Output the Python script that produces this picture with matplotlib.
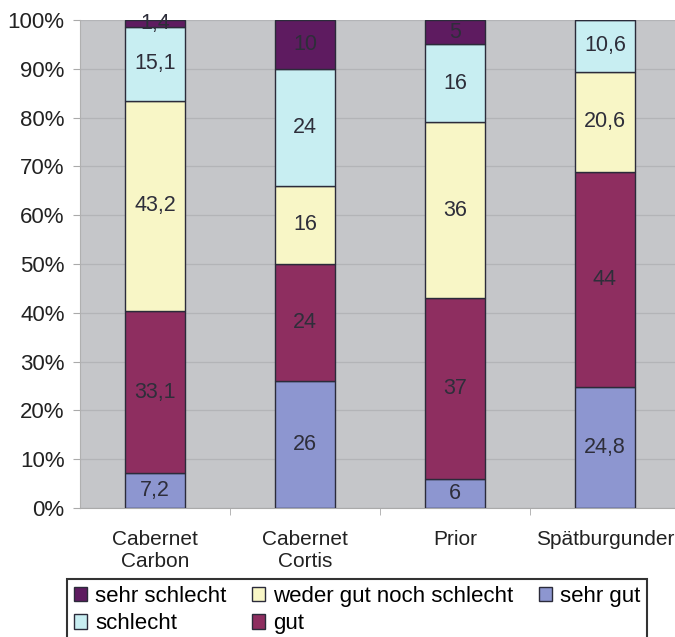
import numpy as np
import matplotlib.pyplot as plt
from matplotlib.patches import Patch

plt.rcParams['font.family'] = ['Liberation Sans', 'DejaVu Sans']

sorten = ['Cabernet\nCarbon', 'Cabernet\nCortis', 'Prior', 'Spätburgunder']

# Anteile je Bewertung (in %), von unten nach oben gestapelt
sehr_gut = [7.2, 26, 6, 24.8]
gut = [33.1, 24, 37, 44]
weder = [43.2, 16, 36, 20.6]
schlecht = [15.1, 24, 16, 10.6]
sehr_schlecht = [1.4, 10, 5, 0]

stufen = [
    ('sehr gut', sehr_gut, '#8d96d0'),
    ('gut', gut, '#8e2e60'),
    ('weder gut noch schlecht', weder, '#f8f6c6'),
    ('schlecht', schlecht, '#c8eef2'),
    ('sehr schlecht', sehr_schlecht, '#5e1b60'),
]

fig = plt.figure(figsize=(6.75, 6.37), dpi=100)
ax = fig.add_axes([80 / 675, 129 / 637, 595 / 675, 488 / 637])
ax.set_facecolor('#c5c6c9')

x = np.arange(len(sorten))
bottom = np.zeros(len(sorten))
for name, vals, col in stufen:
    vals = np.array(vals, dtype=float)
    ax.bar(x, vals, 0.4, bottom=bottom, color=col, edgecolor='#2b2b3a',
           linewidth=1.0, zorder=3)
    for xi, b, v in zip(x, bottom, vals):
        if v <= 0:
            continue
        txt = f'{v:g}'.replace('.', ',')
        ax.text(xi, b + v / 2, txt, ha='center', va='center', fontsize=15.5,
                color='#2e2e3a', zorder=4)
    bottom += vals

ax.set_xlim(-0.5, 3.467)
ax.set_ylim(0, 100)
ax.set_yticks(np.arange(0, 101, 10))
ax.set_yticklabels([f'{v}%' for v in range(0, 101, 10)], fontsize=16,
                   color='#222222')
ax.yaxis.grid(True, color='#b3b4b7', linewidth=0.9, zorder=0)
ax.set_xticks(x)
ax.set_xticklabels(sorten, fontsize=15, color='#222222', linespacing=1.2)
ax.tick_params(axis='x', length=0, pad=16)
ax.tick_params(axis='y', length=5, color='#aaaaaa', pad=6)
ax.set_xticks(x[:-1] + 0.5, minor=True)
ax.tick_params(axis='x', which='minor', length=5, color='#aaaaaa')

for s in ['top', 'right']:
    ax.spines[s].set_visible(False)
ax.spines['left'].set_color('#b0b0b0')
ax.spines['bottom'].set_color('#aaaaaa')

handles = [
    Patch(facecolor='#5e1b60', edgecolor='#2b2b3a', label='sehr schlecht'),
    Patch(facecolor='#c8eef2', edgecolor='#2b2b3a', label='schlecht'),
    Patch(facecolor='#f8f6c6', edgecolor='#2b2b3a', label='weder gut noch schlecht'),
    Patch(facecolor='#8e2e60', edgecolor='#2b2b3a', label='gut'),
    Patch(facecolor='#8d96d0', edgecolor='#2b2b3a', label='sehr gut'),
]
leg = fig.legend(handles=handles, ncol=3, loc='upper center',
                 bbox_to_anchor=(357 / 675, 1 - 579 / 637), fontsize=16,
                 frameon=True, fancybox=False, edgecolor='black',
                 handlelength=0.6, handleheight=0.6, handletextpad=0.35,
                 columnspacing=1.15, labelspacing=0.3, borderpad=0.3,
                 borderaxespad=0)
leg.get_frame().set_linewidth(1.5)

fig.savefig('out.png', dpi=100)
